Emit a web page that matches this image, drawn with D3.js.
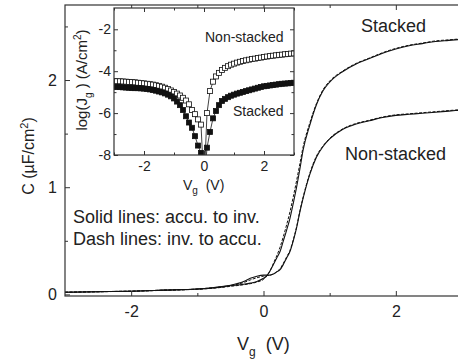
<!DOCTYPE html>
<html><head><meta charset="utf-8">
<script src="https://cdn.jsdelivr.net/npm/d3@7"></script>
<style>
body{margin:0;background:#fff;}
svg{display:block;font-family:"Liberation Sans",Arial,sans-serif;}
</style></head>
<body><svg id="c" width="458" height="360"></svg>
<script>
// ---------- main C-V data ----------
const mainV = [-3,-2.5,-2,-1.5,-1,-0.75,-0.5,-0.3,-0.2,-0.1,0,0.05,0.1,0.15,0.2,0.25,0.3,0.35,0.4,0.45,0.5,0.55,0.6,0.7,0.8,0.9,1.0,1.2,1.4,1.6,1.8,2.0,2.2,2.4,2.6,2.8,3.0];
const stackedSolid = [0.02,0.025,0.03,0.04,0.05,0.06,0.08,0.095,0.105,0.12,0.15,0.175,0.22,0.28,0.34,0.40,0.50,0.60,0.71,0.85,1.0,1.17,1.35,1.58,1.77,1.90,1.98,2.08,2.15,2.20,2.25,2.29,2.32,2.34,2.36,2.37,2.38];
const stackedDash  = [0.02,0.025,0.03,0.038,0.048,0.058,0.075,0.09,0.10,0.115,0.14,0.17,0.22,0.29,0.36,0.44,0.54,0.65,0.77,0.91,1.06,1.22,1.38,1.60,1.78,1.91,1.99,2.085,2.155,2.205,2.255,2.295,2.325,2.345,2.365,2.375,2.385];
const nonStackedSolid = [0.02,0.025,0.03,0.04,0.05,0.065,0.085,0.12,0.15,0.17,0.18,0.18,0.18,0.19,0.21,0.23,0.28,0.34,0.40,0.50,0.62,0.77,0.90,1.12,1.28,1.38,1.45,1.54,1.59,1.62,1.65,1.67,1.68,1.69,1.70,1.71,1.72];
const nonStackedDash  = [0.02,0.025,0.03,0.04,0.05,0.063,0.082,0.11,0.135,0.155,0.17,0.175,0.18,0.19,0.21,0.24,0.29,0.35,0.41,0.51,0.63,0.78,0.91,1.13,1.29,1.385,1.455,1.545,1.595,1.625,1.655,1.675,1.685,1.695,1.705,1.715,1.725];
const mainXTicks = [-2,0,2], mainXMinor = [-1,1];
const mainYTicks = [0,1,2], mainYMinor = [0.5,1.5,2.5];

// ---------- inset log(Jg) data ----------
const insetV = [-3.0,-2.9,-2.8,-2.7,-2.6,-2.5,-2.4,-2.3,-2.2,-2.1,-2.0,-1.9,-1.8,-1.7,-1.6,-1.5,-1.4,-1.3,-1.2,-1.1,-1.0,-0.9,-0.8,-0.7,-0.6,-0.5,-0.4,-0.3,-0.2,-0.1,0.0,0.1,0.2,0.3,0.4,0.5,0.6,0.7,0.8,0.9,1.0,1.1,1.2,1.3,1.4,1.5,1.6,1.7,1.8,1.9,2.0,2.1,2.2,2.3,2.4,2.5,2.6,2.7,2.8,2.9,3.0];
const logNonStacked = [-4.47,-4.48,-4.48,-4.49,-4.50,-4.51,-4.52,-4.53,-4.55,-4.56,-4.58,-4.60,-4.62,-4.64,-4.67,-4.70,-4.74,-4.79,-4.85,-4.92,-4.99,-5.07,-5.16,-5.27,-5.40,-5.58,-5.85,-6.05,-6.30,-6.55,-9.5,-6.0,-4.95,-4.50,-4.25,-4.08,-3.94,-3.84,-3.76,-3.69,-3.64,-3.59,-3.55,-3.51,-3.48,-3.45,-3.42,-3.40,-3.37,-3.35,-3.32,-3.30,-3.28,-3.26,-3.24,-3.22,-3.21,-3.19,-3.18,-3.16,-3.15];
const logStacked = [-4.74,-4.75,-4.76,-4.77,-4.78,-4.79,-4.80,-4.81,-4.81,-4.82,-4.83,-4.85,-4.87,-4.90,-4.93,-4.97,-5.01,-5.06,-5.12,-5.20,-5.30,-5.45,-5.62,-5.85,-6.15,-6.45,-6.70,-7.10,-7.55,-7.90,-9.5,-7.65,-6.90,-6.25,-5.90,-5.62,-5.42,-5.32,-5.24,-5.17,-5.12,-5.07,-5.03,-4.99,-4.95,-4.91,-4.87,-4.83,-4.79,-4.75,-4.72,-4.70,-4.68,-4.66,-4.64,-4.62,-4.60,-4.59,-4.58,-4.56,-4.55];
const insetXTicks = [-2,0,2], insetXMinor = [-3,-1,1,3];
const insetYTicks = [-8,-6,-4,-2], insetYMinor = [-7,-5,-3];

const svg = d3.select("#c");
const axisColor = "#333", textColor = "#222";

// ---------- main plot ----------
const M = {l:65, r:462, t:5, b:296};
const x = d3.scaleLinear().domain([-3,3]).range([M.l, M.r]);
const y = d3.scaleLinear().domain([-0.015,2.7]).range([M.b, M.t]);

svg.append("defs").append("clipPath").attr("id","mclip")
  .append("rect").attr("x",M.l).attr("y",M.t).attr("width",M.r-M.l).attr("height",M.b-M.t);
svg.select("defs").append("clipPath").attr("id","iclip")
  .append("rect").attr("x",114).attr("y",8).attr("width",180).attr("height",147);

const line = d3.line().x(d=>x(d[0])).y(d=>y(d[1])).curve(d3.curveMonotoneX);
const gCurves = svg.append("g").attr("clip-path","url(#mclip)");
[[stackedSolid,null],[nonStackedSolid,null],[stackedDash,"3,1.5"],[nonStackedDash,"3,1.5"]].forEach(([arr,dash])=>{
  gCurves.append("path").datum(mainV.map((v,i)=>[v,arr[i]]))
    .attr("d",line).attr("fill","none").attr("stroke","#111")
    .attr("stroke-width",dash?1:1.1).attr("stroke-dasharray",dash);
});

function styleAxis(g, fs){
  g.select(".domain").remove();
  g.selectAll(".tick line").attr("stroke",axisColor).attr("stroke-width",1);
  g.selectAll("text").attr("fill",textColor).style("font-size",fs+"px").style("font-family","Liberation Sans, Arial, sans-serif");
}
// main axes
let g;
g = svg.append("g").attr("transform",`translate(0,${M.b})`).call(d3.axisBottom(x).tickValues(mainXTicks).tickSize(-5).tickPadding(10).tickFormat(d3.format("d")));
styleAxis(g,16); g.selectAll("text").text(d=>d<0?"-"+Math.abs(d):d);
g = svg.append("g").attr("transform",`translate(0,${M.b})`).call(d3.axisBottom(x).tickValues(mainXMinor).tickSize(-3).tickFormat(""));
styleAxis(g,16);
g = svg.append("g").attr("transform",`translate(0,${M.t})`).call(d3.axisTop(x).tickValues(mainXTicks).tickSize(-5).tickFormat(""));
styleAxis(g,16);
g = svg.append("g").attr("transform",`translate(0,${M.t})`).call(d3.axisTop(x).tickValues(mainXMinor).tickSize(-3).tickFormat(""));
styleAxis(g,16);
g = svg.append("g").attr("transform",`translate(${M.l},0)`).call(d3.axisLeft(y).tickValues(mainYTicks).tickSize(-5).tickPadding(8).tickFormat(d3.format("d")));
styleAxis(g,16);
g = svg.append("g").attr("transform",`translate(${M.l},0)`).call(d3.axisLeft(y).tickValues(mainYMinor).tickSize(-3).tickFormat(""));
styleAxis(g,16);
svg.append("rect").attr("x",M.l).attr("y",M.t).attr("width",M.r-M.l).attr("height",M.b-M.t)
  .attr("fill","none").attr("stroke",axisColor).attr("stroke-width",1.2);

// main labels
const yl = svg.append("text").attr("transform","translate(34,156) rotate(-90)").attr("text-anchor","middle")
  .attr("fill",textColor).style("font-size","16px");
yl.append("tspan").text("C (\u00B5F/cm");
yl.append("tspan").attr("dy","-6").style("font-size","11px").text("2");
yl.append("tspan").attr("dy","6").text(")");
const xl = svg.append("text").attr("x",237).attr("y",350).attr("fill",textColor).style("font-size","18px").attr("xml:space","preserve");
xl.append("tspan").text("V");
xl.append("tspan").attr("dy","6").style("font-size","12px").text("g");
xl.append("tspan").attr("dy","-6").text("  (V)");
svg.append("text").attr("x",361).attr("y",32).attr("fill",textColor).style("font-size","18px").text("Stacked");
svg.append("text").attr("x",345).attr("y",160).attr("fill",textColor).style("font-size","18px").text("Non-stacked");
svg.append("text").attr("x",73).attr("y",223).attr("fill",textColor).style("font-size","18px").text("Solid lines: accu. to inv.");
svg.append("text").attr("x",73).attr("y",245).attr("fill",textColor).style("font-size","18px").text("Dash lines: inv. to accu.");

// ---------- inset ----------
const I = {l:114, r:294, t:8, b:155};
const xi = d3.scaleLinear().domain([-3,3]).range([I.l, I.r]);
const yi = d3.scaleLinear().domain([-8,-1]).range([I.b, I.b-7*20.95]);
svg.append("rect").attr("x",I.l).attr("y",I.t).attr("width",I.r-I.l).attr("height",I.b-I.t).attr("fill","#fff");

const gi = svg.append("g").attr("clip-path","url(#iclip)");
const iline = d3.line().x(d=>xi(d[0])).y(d=>yi(d[1]));
const sq = 5;
[[logNonStacked,"#fff"],[logStacked,"#111"]].forEach(([arr,fill])=>{
  const pts = insetV.map((v,i)=>[v,arr[i]]);
  gi.append("path").datum(pts).attr("d",iline).attr("fill","none").attr("stroke","#111").attr("stroke-width",0.8);
  gi.selectAll(null).data(pts).enter().append("rect")
    .attr("x",d=>xi(d[0])-sq/2).attr("y",d=>yi(d[1])-sq/2).attr("width",sq).attr("height",sq)
    .attr("fill",fill).attr("stroke","#111").attr("stroke-width",0.8);
});

g = svg.append("g").attr("transform",`translate(0,${I.b})`).call(d3.axisBottom(xi).tickValues(insetXTicks).tickSize(-4).tickPadding(6).tickFormat(d3.format("d")));
styleAxis(g,14); g.selectAll("text").text(d=>d<0?"-"+Math.abs(d):d);
g = svg.append("g").attr("transform",`translate(0,${I.b})`).call(d3.axisBottom(xi).tickValues(insetXMinor).tickSize(-2.5).tickFormat(""));
styleAxis(g,14);
g = svg.append("g").attr("transform",`translate(0,${I.t})`).call(d3.axisTop(xi).tickValues(insetXTicks).tickSize(-4).tickFormat(""));
styleAxis(g,14);
g = svg.append("g").attr("transform",`translate(0,${I.t})`).call(d3.axisTop(xi).tickValues(insetXMinor).tickSize(-2.5).tickFormat(""));
styleAxis(g,14);
g = svg.append("g").attr("transform",`translate(${I.l},0)`).call(d3.axisLeft(yi).tickValues(insetYTicks).tickSize(-4).tickPadding(3).tickFormat(d3.format("d")));
styleAxis(g,14); g.selectAll("text").text(d=>"-"+Math.abs(d));
g = svg.append("g").attr("transform",`translate(${I.l},0)`).call(d3.axisLeft(yi).tickValues(insetYMinor).tickSize(-2.5).tickFormat(""));
styleAxis(g,14);
g = svg.append("g").attr("transform",`translate(${I.r},0)`).call(d3.axisRight(yi).tickValues(insetYTicks).tickSize(-4).tickFormat(""));
styleAxis(g,14);
g = svg.append("g").attr("transform",`translate(${I.r},0)`).call(d3.axisRight(yi).tickValues(insetYMinor).tickSize(-2.5).tickFormat(""));
styleAxis(g,14);
svg.append("rect").attr("x",I.l).attr("y",I.t).attr("width",I.r-I.l).attr("height",I.b-I.t)
  .attr("fill","none").attr("stroke",axisColor).attr("stroke-width",1.2);

const iyl = svg.append("text").attr("transform","translate(87,80) rotate(-90)").attr("text-anchor","middle")
  .attr("fill",textColor).style("font-size","15px").attr("xml:space","preserve");
iyl.append("tspan").text("log(J");
iyl.append("tspan").attr("dy","5").style("font-size","10px").text("g");
iyl.append("tspan").attr("dy","-5").text(" ) (A/cm");
iyl.append("tspan").attr("dy","-6").style("font-size","10px").text("2");
iyl.append("tspan").attr("dy","6").text(")");
const ixl = svg.append("text").attr("x",183).attr("y",190).attr("fill",textColor).style("font-size","14px").attr("xml:space","preserve");
ixl.append("tspan").text("V");
ixl.append("tspan").attr("dy","4").style("font-size","10px").text("g");
ixl.append("tspan").attr("dy","-4").text("  (V)");
svg.append("text").attr("x",205).attr("y",42).attr("fill",textColor).style("font-size","14px").text("Non-stacked");
svg.append("text").attr("x",233).attr("y",116).attr("fill",textColor).style("font-size","14px").text("Stacked");
</script></body></html>
